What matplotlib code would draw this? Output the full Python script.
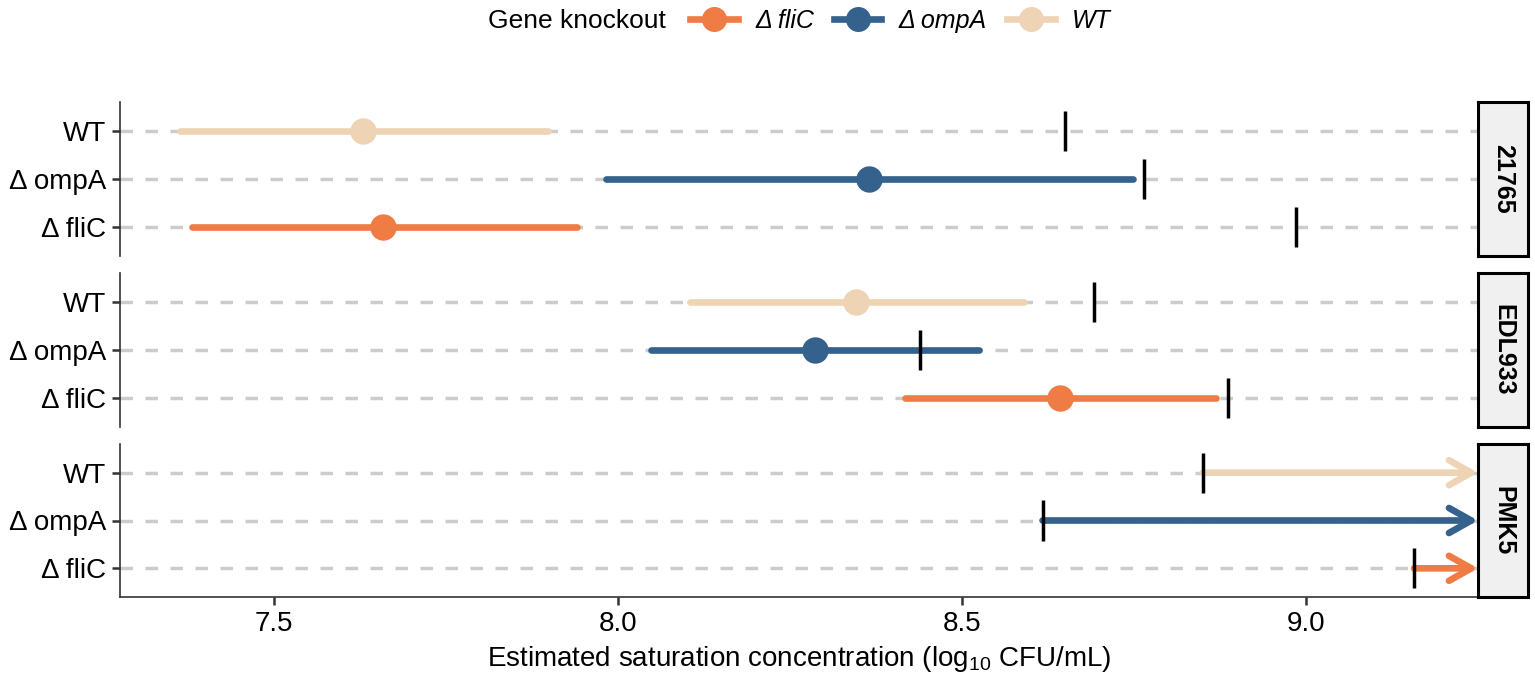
import numpy as np
import matplotlib
matplotlib.use("Agg")
import matplotlib.pyplot as plt
from matplotlib.lines import Line2D

plt.rcParams['font.family'] = ['Liberation Sans', 'DejaVu Sans']
plt.rcParams['mathtext.fontset'] = 'custom'
plt.rcParams['mathtext.rm'] = 'Liberation Sans'

# ---------- data ----------
strains = ['21765', 'EDL933', 'PMK5']
genotypes = ['Δ fliC', 'Δ ompA', 'WT']          # bottom -> top
colors = ['#EF7B45', '#35628D', '#EED4B4']

# point estimate of saturation concentration (nan = not estimated)
est_mid = [[7.658, 8.365, 7.629],
           [8.642, 8.286, 8.346],
           [np.nan, np.nan, np.nan]]
# interval lower / upper bound (inf = unbounded above)
est_lo = [[7.381, 7.983, 7.363],
          [8.417, 8.048, 8.104],
          [9.157, 8.617, 8.850]]
est_hi = [[7.940, 8.749, 7.898],
          [8.869, 8.525, 8.590],
          [np.inf, np.inf, np.inf]]
# maximum observed concentration (black tick)
max_obs = [[8.985, 8.765, 8.650],
           [8.886, 8.439, 8.692],
           [9.157, 8.617, 8.850]]

xlim = (7.276, 9.250)
xticks = [7.5, 8.0, 8.5, 9.0]

# ---------- figure ----------
W, H = 1535, 683
fig = plt.figure(figsize=(W / 100, H / 100), dpi=100)
panels = [(102, 256), (273, 427), (444, 597)]
left_px, right_px = 120, 1478
LW = 4.8

for i, strain in enumerate(strains):
    top, bot = panels[i]
    ax = fig.add_axes([left_px / W, 1 - bot / H, (right_px - left_px) / W, (bot - top) / H])
    ax.set_xlim(*xlim)
    ax.set_ylim(0.4, 3.6)
    y = np.arange(1, len(genotypes) + 1)

    for yy in y:
        ax.axhline(yy, color='#CCCCCC', lw=2.5, ls=(0, (3.6, 3.6)), zorder=1)

    for j, yy in enumerate(y):
        c = colors[j]
        lo, hi, mid = est_lo[i][j], est_hi[i][j], est_mid[i][j]
        if np.isfinite(hi):
            ax.plot([lo, hi], [yy, yy], color=c, lw=LW, solid_capstyle='round', zorder=2)
        else:
            ax.annotate('', xy=(xlim[1], yy), xytext=(lo, yy), annotation_clip=False,
                        arrowprops=dict(arrowstyle='->,head_length=0.8,head_width=0.45',
                                        color=c, lw=LW, shrinkA=0, shrinkB=0,
                                        mutation_scale=20, capstyle='round',
                                        joinstyle='round'), zorder=2)
        if np.isfinite(mid):
            ax.plot(mid, yy, 'o', color=c, ms=19, mew=0, zorder=3)
        ax.plot([max_obs[i][j]] * 2, [yy - 0.42, yy + 0.42], color='black', lw=2.5,
                solid_capstyle='butt', zorder=4)

    ax.set_yticks(y)
    ax.set_yticklabels(genotypes, fontsize=20)
    for s in ['top', 'right']:
        ax.spines[s].set_visible(False)
    ax.spines['left'].set_color('#333333')
    ax.spines['left'].set_linewidth(1.2)
    ax.tick_params(axis='y', length=6, width=1.8, color='#333333', pad=4)
    ax.set_xticks(xticks)
    if i < len(strains) - 1:
        ax.spines['bottom'].set_visible(False)
        ax.tick_params(axis='x', bottom=False, labelbottom=False)
    else:
        ax.spines['bottom'].set_color('#333333')
        ax.spines['bottom'].set_linewidth(1.2)
        ax.set_xticklabels([f'{t:.1f}' for t in xticks], fontsize=20)
        ax.tick_params(axis='x', length=6, width=1.8, color='#333333', pad=4)
        ax.set_xlabel(r'Estimated saturation concentration (log$_{10}$ CFU/mL)',
                      fontsize=20, labelpad=5)

    # facet strip on the right
    sax = fig.add_axes([right_px / W, 1 - bot / H, 50 / W, (bot - top) / H])
    sax.set_facecolor('#F0F0F0')
    sax.set_xticks([]); sax.set_yticks([])
    for s in sax.spines.values():
        s.set_linewidth(2.2)
        s.set_color('black')
    sax.text(0.5, 0.5, strain, rotation=-90, ha='center', va='center',
             fontsize=18, fontweight='bold', transform=sax.transAxes)

# ---------- legend ----------
fig.text(488 / W, 1 - 21 / H, 'Gene knockout', fontsize=19, ha='left', va='center')
handles = [Line2D([], [], color=c, lw=LW, marker='o', ms=18, mew=0) for c in colors]
fig.legend(handles, genotypes, loc='center left', bbox_to_anchor=(690 / W, 1 - 21 / H),
           ncol=3, frameon=False, prop={'style': 'italic', 'size': 18},
           handlelength=1.9, handletextpad=0.7, columnspacing=0.8,
           borderpad=0, borderaxespad=0)

fig.savefig('out.png', dpi=100)
